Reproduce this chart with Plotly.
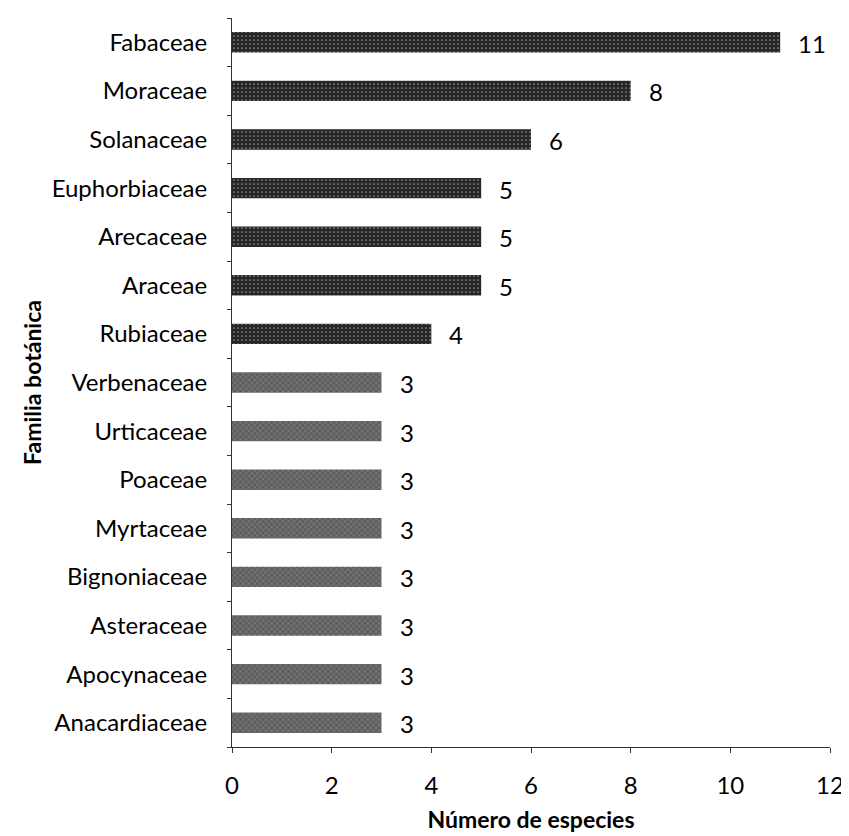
import plotly.graph_objects as go

families = ["Anacardiaceae", "Apocynaceae", "Asteraceae", "Bignoniaceae", "Myrtaceae",
            "Poaceae", "Urticaceae", "Verbenaceae", "Rubiaceae", "Araceae",
            "Arecaceae", "Euphorbiaceae", "Solanaceae", "Moraceae", "Fabaceae"]
counts = [3, 3, 3, 3, 3, 3, 3, 3, 4, 5, 5, 5, 6, 8, 11]
x_ticks = [0, 2, 4, 6, 8, 10, 12]

FONT = "Lato"
colors = ["#5e5e5e" if c == 3 else "#262626" for c in counts]
shapes = ["x" if c == 3 else "." for c in counts]

fig = go.Figure(go.Bar(
    x=counts, y=families, orientation="h",
    marker=dict(color=colors, line=dict(width=0),
                pattern=dict(shape=shapes, fgcolor="#c4c4c4", size=4, solidity=0.15)),
))

for fam, c in zip(families, counts):
    fig.add_annotation(x=c, y=fam, text=str(c), showarrow=False,
                       xanchor="left", yanchor="middle", xshift=16, yshift=-1,
                       font=dict(size=24, color="black", family=FONT))

fig.update_layout(
    width=841, height=828,
    margin=dict(l=224, r=19, t=10, b=89),
    plot_bgcolor="white", paper_bgcolor="white",
    bargap=0.58, showlegend=False,
    font=dict(family=FONT, size=24, color="black"),
)
fig.update_xaxes(
    range=[0, 12], tickvals=x_ticks, showgrid=False, zeroline=False,
    showline=True, linecolor="#333", linewidth=1, automargin=False,
    ticks="outside", ticklen=5, tickcolor="#333", ticklabelstandoff=12,
    tickfont=dict(size=24),
    title=dict(text="<b>Número de especies</b>", font=dict(size=23), standoff=14),
)
fig.update_yaxes(
    showgrid=False, showline=True, linecolor="#333", linewidth=1, automargin=False,
    ticks="outside", ticklen=4, tickcolor="#333", tickson="boundaries",
    ticklabelstandoff=19,
    tickfont=dict(size=24),
    title=dict(text="<b>Familia botánica</b>", font=dict(size=23), standoff=3),
)

fig.write_html("out.html")
